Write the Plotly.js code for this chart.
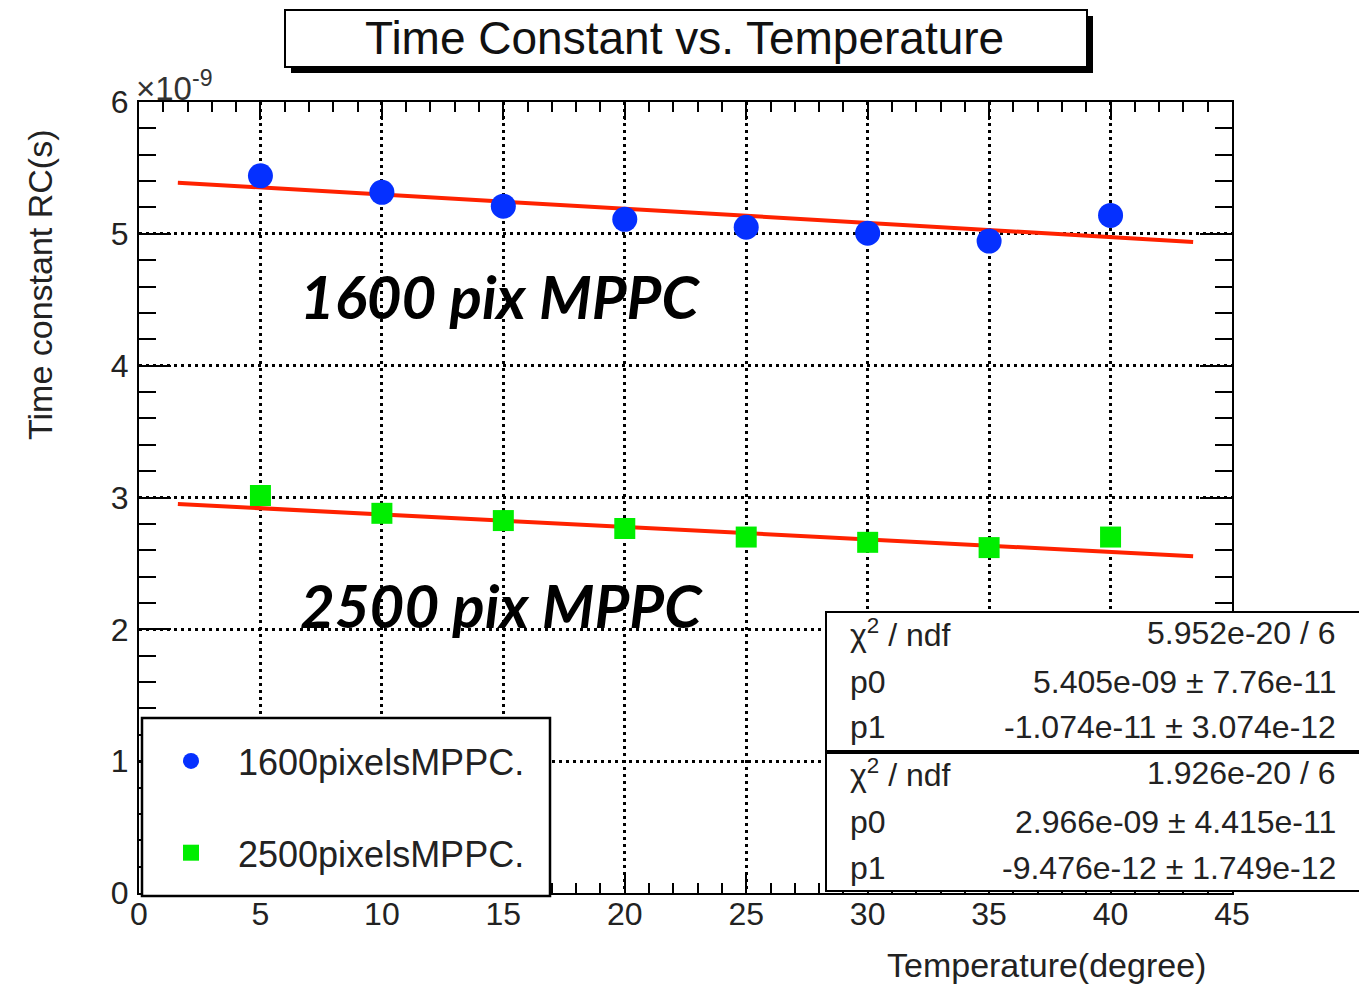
<!DOCTYPE html>
<html>
<head>
<meta charset="utf-8">
<script src="https://cdn.plot.ly/plotly-3.0.1.min.js"></script>
<style>html,body{margin:0;padding:0;background:#fff;}#chart{width:1359px;height:988px;}</style>
</head>
<body>
<div id="chart"></div>
<script>
// ---- data (y values in units of 1e-9 s) ----
const temperature = [5, 10, 15, 20, 25, 30, 35, 40];
const rc1600 = [5.44, 5.315, 5.21, 5.11, 5.05, 5.005, 4.945, 5.14];
const rc2500 = [3.015, 2.88, 2.825, 2.765, 2.70, 2.66, 2.62, 2.70];
const fitX = [1.6, 43.4];
const fit1600 = [5.388, 4.939];
const fit2500 = [2.951, 2.555];
const xTicks = [0, 5, 10, 15, 20, 25, 30, 35, 40, 45];
const yTicks = [0, 1, 2, 3, 4, 5, 6];
const seriesNames = ['1600pixelsMPPC.', '2500pixelsMPPC.'];
const statsLabels = ['χ<sup>2</sup> / ndf', 'p0', 'p1'];
const stats1600 = ['5.952e-20 / 6', '5.405e-09 ± 7.76e-11', '-1.074e-11 ± 3.074e-12'];
const stats2500 = ['1.926e-20 / 6', '2.966e-09 ± 4.415e-11', '-9.476e-12 ± 1.749e-12'];

// ---- layout helpers (pixel -> paper) ----
const W = 1359, H = 988, ML = 139, MR = 127, MT = 102, MB = 95;
const PW = W - ML - MR, PH = H - MT - MB;
const px = v => (v - ML) / PW;
const py = v => (H - MB - v) / PH;
const FONT = 'Liberation Sans, Arial, Helvetica, sans-serif';
const RED = '#ff2200';

const traces = [
  {x: fitX, y: fit1600, mode: 'lines', line: {color: RED, width: 4}, showlegend: false, hoverinfo: 'skip'},
  {x: fitX, y: fit2500, mode: 'lines', line: {color: RED, width: 4}, showlegend: false, hoverinfo: 'skip'},
  {x: temperature, y: rc1600, mode: 'markers', name: seriesNames[0], legendgroup: 'a',
   marker: {symbol: 'circle', size: 25, color: '#0530ff'}},
  {x: temperature, y: rc2500, mode: 'markers', name: seriesNames[1], legendgroup: 'b',
   marker: {symbol: 'square', size: 21, color: '#00ee00'}}
];

const axisCommon = {
  showline: true, linecolor: 'black', linewidth: 2, mirror: 'allticks',
  ticks: 'inside', tickcolor: 'black', tickwidth: 2,
  showgrid: true, gridcolor: 'black', gridwidth: 3, griddash: '3px,4px',
  zeroline: false, tickfont: {family: FONT, size: 32, color: '#222'}
};

const shapes = [];
const annotations = [];
// title box with shadow
shapes.push({type: 'rect', xref: 'paper', yref: 'paper', x0: px(291), x1: px(1093), y0: py(16), y1: py(73),
  fillcolor: 'black', line: {width: 0}, layer: 'above'});
shapes.push({type: 'rect', xref: 'paper', yref: 'paper', x0: px(285), x1: px(1087), y0: py(10), y1: py(67),
  fillcolor: 'white', line: {color: 'black', width: 2}, layer: 'above'});
annotations.push({xref: 'paper', yref: 'paper', x: px(684), y: py(38), text: 'Time Constant vs. Temperature',
  showarrow: false, xanchor: 'center', yanchor: 'middle', font: {family: FONT, size: 46, color: '#111'}});
// legend box
shapes.push({type: 'rect', xref: 'paper', yref: 'paper', x0: px(142), x1: px(550), y0: py(718), y1: py(896),
  fillcolor: 'white', line: {color: 'black', width: 2.5}, layer: 'above'});
// stats boxes
shapes.push({type: 'rect', xref: 'paper', yref: 'paper', x0: px(826), x1: px(1365), y0: py(612), y1: py(752),
  fillcolor: 'white', line: {color: 'black', width: 2}, layer: 'above'});
shapes.push({type: 'rect', xref: 'paper', yref: 'paper', x0: px(826), x1: px(1365), y0: py(752), y1: py(891),
  fillcolor: 'white', line: {color: 'black', width: 2}, layer: 'above'});
shapes.push({type: 'line', xref: 'paper', yref: 'paper', x0: px(826), x1: px(1365), y0: py(752), y1: py(752),
  line: {color: 'black', width: 4}, layer: 'above'});
const rowY1 = [633, 682, 727], rowY2 = [773, 822, 868];
[[stats1600, rowY1], [stats2500, rowY2]].forEach(([vals, ys]) => {
  vals.forEach((v, i) => {
    annotations.push({xref: 'paper', yref: 'paper', x: px(848), y: py(ys[i]), text: statsLabels[i],
      showarrow: false, xanchor: 'left', yanchor: 'middle', font: {family: FONT, size: 32, color: '#222'}});
    annotations.push({xref: 'paper', yref: 'paper', x: px(1338), y: py(ys[i]), text: v,
      showarrow: false, xanchor: 'right', yanchor: 'middle', font: {family: FONT, size: 32, color: '#222'}});
  });
});
// big labels
annotations.push({xref: 'paper', yref: 'paper', x: px(298), y: py(296), text: '<b><i>1600 pix MPPC</i></b>',
  showarrow: false, xanchor: 'left', yanchor: 'middle', font: {family: 'Lato, Open Sans, sans-serif', size: 60, color: 'black'}});
annotations.push({xref: 'paper', yref: 'paper', x: px(298), y: py(605), text: '<b><i>2500 pix MPPC</i></b>',
  showarrow: false, xanchor: 'left', yanchor: 'middle', font: {family: 'Lato, Open Sans, sans-serif', size: 60, color: 'black'}});
// exponent label
annotations.push({xref: 'paper', yref: 'paper', x: px(134), y: py(86), text: '×10<sup>-9</sup>',
  showarrow: false, xanchor: 'left', yanchor: 'middle', font: {family: FONT, size: 33, color: '#333'}});
// axis titles
annotations.push({xref: 'paper', yref: 'paper', x: px(40), y: py(285), text: 'Time constant RC(s)', textangle: -90,
  showarrow: false, xanchor: 'center', yanchor: 'middle', font: {family: FONT, size: 34, color: '#222'}});
annotations.push({xref: 'paper', yref: 'paper', x: px(1208), y: py(965), text: 'Temperature(degree)',
  showarrow: false, xanchor: 'right', yanchor: 'middle', font: {family: FONT, size: 34, color: '#222'}});

const layout = {
  width: W, height: H,
  margin: {l: ML, r: MR, t: MT, b: MB, pad: 0},
  paper_bgcolor: 'white', plot_bgcolor: 'white',
  showlegend: true,
  legend: {x: px(144), y: py(731), xanchor: 'left', yanchor: 'top', bgcolor: 'rgba(0,0,0,0)', borderwidth: 0,
    traceorder: 'grouped', tracegroupgap: 42, itemwidth: 84,
    font: {family: FONT, size: 36, color: '#222'}},
  xaxis: Object.assign({}, axisCommon, {range: [0, 45], tickvals: xTicks, ticklen: 18,
    minor: {dtick: 1, ticklen: 10, tickcolor: 'black', tickwidth: 2, ticks: 'inside', showgrid: false},
    ticklabelstandoff: -8}),
  yaxis: Object.assign({}, axisCommon, {range: [0, 6], tickvals: yTicks, ticklen: 32,
    minor: {dtick: 0.2, ticklen: 17, tickcolor: 'black', tickwidth: 2, ticks: 'inside', showgrid: false},
    ticklabelstandoff: 2}),
  shapes: shapes,
  annotations: annotations
};

Plotly.newPlot('chart', traces, layout, {displayModeBar: false, staticPlot: true});
</script>
</body>
</html>
